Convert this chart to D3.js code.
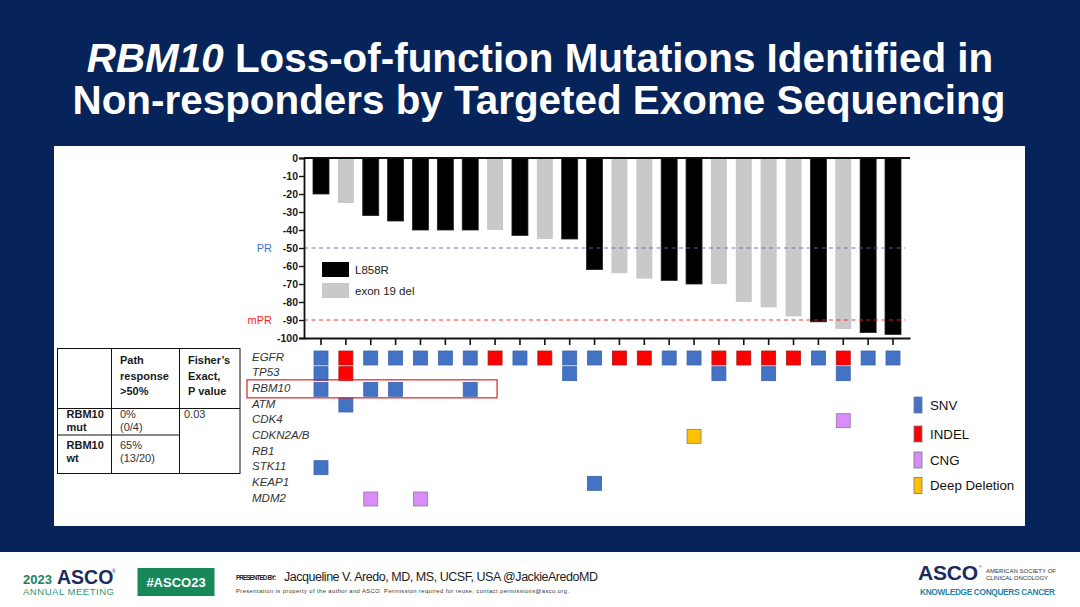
<!DOCTYPE html>
<html>
<head>
<meta charset="utf-8">
<script src="https://cdn.jsdelivr.net/npm/d3@7"></script>
<style>
  body { margin: 0; background: #fff; }
  svg { display: block; font-family: "Liberation Sans", Arial, sans-serif; }
</style>
</head>
<body>
<svg id="slide" width="1080" height="607"></svg>
<script>
// patients ordered by best response (waterfall order)
var patients = ['P1','P2','P3','P4','P5','P6','P7','P8','P9','P10','P11','P12',
                'P13','P14','P15','P16','P17','P18','P19','P20','P21','P22','P23','P24'];

// best pathologic/radiologic response (%)
var bestResponse = [-20, -25, -32, -35, -40, -40, -40, -40, -43, -45, -45, -62,
                    -64, -67, -68, -70, -70, -80, -83, -88, -91, -95, -97, -98];

// EGFR mutation subtype per patient
var egfrType = ['L858R','exon 19 del','L858R','L858R','L858R','L858R','L858R','exon 19 del',
                'L858R','exon 19 del','L858R','L858R','exon 19 del','exon 19 del','L858R','L858R',
                'exon 19 del','exon 19 del','exon 19 del','exon 19 del','L858R','exon 19 del','L858R','L858R'];

var yTicks = [0, -10, -20, -30, -40, -50, -60, -70, -80, -90, -100];

var thresholds = [
    { label: 'PR', value: -50, color: '#4472c4' },
    { label: 'mPR', value: -90, color: '#ff1a1a' }
];

var genes = ['EGFR', 'TP53', 'RBM10', 'ATM', 'CDK4', 'CDKN2A/B', 'RB1', 'STK11', 'KEAP1', 'MDM2'];

var altTypes = ['SNV', 'INDEL', 'CNG', 'Deep Deletion'];

// [patient, gene, alteration]
var alterations = [
    ['P1','EGFR','SNV'], ['P2','EGFR','INDEL'], ['P3','EGFR','SNV'], ['P4','EGFR','SNV'],
    ['P5','EGFR','SNV'], ['P6','EGFR','SNV'], ['P7','EGFR','SNV'], ['P8','EGFR','INDEL'],
    ['P9','EGFR','SNV'], ['P10','EGFR','INDEL'], ['P11','EGFR','SNV'], ['P12','EGFR','SNV'],
    ['P13','EGFR','INDEL'], ['P14','EGFR','INDEL'], ['P15','EGFR','SNV'], ['P16','EGFR','SNV'],
    ['P17','EGFR','INDEL'], ['P18','EGFR','INDEL'], ['P19','EGFR','INDEL'], ['P20','EGFR','INDEL'],
    ['P21','EGFR','SNV'], ['P22','EGFR','INDEL'], ['P23','EGFR','SNV'], ['P24','EGFR','SNV'],
    ['P1','TP53','SNV'], ['P2','TP53','INDEL'], ['P11','TP53','SNV'], ['P17','TP53','SNV'],
    ['P19','TP53','SNV'], ['P22','TP53','SNV'],
    ['P1','RBM10','SNV'], ['P3','RBM10','SNV'], ['P4','RBM10','SNV'], ['P7','RBM10','SNV'],
    ['P2','ATM','SNV'],
    ['P22','CDK4','CNG'],
    ['P16','CDKN2A/B','Deep Deletion'],
    ['P1','STK11','SNV'],
    ['P12','KEAP1','SNV'],
    ['P3','MDM2','CNG'], ['P5','MDM2','CNG']
];

// summary table
var tableHeader = [[], ['Path', 'response', '>50%'], ["Fisher\u2019s", 'Exact,', 'P value']];
var tableRows = [
    { group: ['RBM10', 'mut'], response: ['0%', '(0/4)'] },
    { group: ['RBM10', 'wt'], response: ['65%', '(13/20)'] }
];
var fisherP = '0.03';

// ---------------------------------------------------------------
var navy = '#062459';
var svg = d3.select('#slide');

// slide background
svg.append('rect').attr('x', 0).attr('y', 0).attr('width', 1080).attr('height', 552).attr('fill', navy);
svg.append('rect').attr('x', 54).attr('y', 146).attr('width', 971).attr('height', 380).attr('fill', '#fff');

// title
var title = svg.append('text')
    .attr('text-anchor', 'middle')
    .attr('fill', '#fff')
    .attr('font-weight', 'bold')
    .attr('font-size', 40.4);
var t1 = title.append('tspan').attr('x', 540).attr('y', 72);
t1.append('tspan').attr('font-style', 'italic').text('RBM10');
t1.append('tspan').text(' Loss-of-function Mutations Identified in');
title.append('tspan').attr('x', 539).attr('y', 114).text('Non-responders by Targeted Exome Sequencing');

// ---------------------------------------------------------------
// waterfall
var x = d3.scaleBand()
    .domain(patients)
    .range([304, 910])
    .paddingInner(0.357)
    .paddingOuter(0.362);

var y = d3.scaleLinear()
    .domain([-100, 0])
    .range([338, 158]);

var typeColor = d3.scaleOrdinal()
    .domain(['L858R', 'exon 19 del'])
    .range(['#000000', '#c9c9c9']);

var chart = svg.append('g');

chart.selectAll('rect.bar')
    .data(patients)
    .enter().append('rect')
    .attr('class', 'bar')
    .attr('x', function(d) { return x(d); })
    .attr('y', y(0))
    .attr('width', x.bandwidth())
    .attr('height', function(d, i) { return y(bestResponse[i]) - y(0); })
    .attr('fill', function(d, i) { return typeColor(egfrType[i]); })
    .attr('stroke', function(d, i) { return egfrType[i] === 'L858R' ? '#222' : 'none'; })
    .attr('stroke-width', 0.8);

// threshold lines
thresholds.forEach(function(t) {
    chart.append('line')
        .attr('x1', 304).attr('x2', 905)
        .attr('y1', y(t.value)).attr('y2', y(t.value))
        .attr('stroke', t.color)
        .attr('stroke-opacity', 0.6)
        .attr('stroke-width', 1.3)
        .attr('stroke-dasharray', '4,3.5');
    chart.append('text')
        .attr('x', 272).attr('y', y(t.value))
        .attr('dy', '0.35em')
        .attr('text-anchor', 'end')
        .attr('font-size', 11)
        .attr('fill', t.color)
        .text(t.label);
});

// axes
var yAxis = chart.append('g')
    .attr('transform', 'translate(304,0)')
    .call(d3.axisLeft(y).tickValues(yTicks).tickSize(5).tickPadding(1)
        .tickFormat(function(d) { return String(d); }));
yAxis.selectAll('text').attr('font-size', 10.5).attr('font-weight', 'bold').attr('fill', '#1a1a1a')
    .attr('font-family', '"Liberation Sans", Arial, sans-serif');
yAxis.selectAll('line').attr('stroke', '#111').attr('stroke-width', 1.4);
yAxis.select('.domain').attr('stroke', '#111').attr('stroke-width', 1.8);

var xAxis = chart.append('g')
    .attr('transform', 'translate(0,' + y(-100) + ')')
    .call(d3.axisBottom(x).tickSize(7).tickSizeOuter(0).tickFormat(''));
xAxis.selectAll('line').attr('stroke', '#111').attr('stroke-width', 1.6);
xAxis.select('.domain').attr('stroke', '#111').attr('stroke-width', 1.8);

chart.append('line')
    .attr('x1', 304).attr('x2', 910)
    .attr('y1', y(0)).attr('y2', y(0))
    .attr('stroke', '#111').attr('stroke-width', 1.8);

// subtype legend
var legend = chart.append('g').attr('transform', 'translate(322,262)');
typeColor.domain().forEach(function(k, i) {
    legend.append('rect')
        .attr('x', 0).attr('y', i * 21)
        .attr('width', 27).attr('height', 15)
        .attr('fill', typeColor(k));
    legend.append('text')
        .attr('x', 33).attr('y', i * 21 + 7.5)
        .attr('dy', '0.35em')
        .attr('font-size', 11.5)
        .attr('fill', '#222')
        .text(k);
});

// ---------------------------------------------------------------
// oncoprint
var row = d3.scalePoint()
    .domain(genes)
    .range([358, 499]);

var altColor = d3.scaleOrdinal()
    .domain(altTypes)
    .range(['#4472c4', '#ff0000', '#d98ef7', '#ffc000']);
var altStroke = d3.scaleOrdinal()
    .domain(altTypes)
    .range(['#3d64ad', '#b01818', '#8d7a9c', '#7f7f7f']);

var onco = svg.append('g');

onco.selectAll('text.gene')
    .data(genes)
    .enter().append('text')
    .attr('class', 'gene')
    .attr('x', 252)
    .attr('y', function(d) { return row(d) + 2.5; })
    .attr('font-size', 11.5)
    .attr('font-style', 'italic')
    .attr('fill', '#333')
    .text(function(d) { return d; });

var sq = 14;
onco.selectAll('rect.alt')
    .data(alterations)
    .enter().append('rect')
    .attr('class', 'alt')
    .attr('x', function(d) { return x(d[0]) + x.bandwidth() / 2 - sq / 2; })
    .attr('y', function(d) { return row(d[1]) - sq / 2; })
    .attr('width', sq).attr('height', sq)
    .attr('fill', function(d) { return altColor(d[2]); })
    .attr('stroke', function(d) { return altStroke(d[2]); })
    .attr('stroke-width', 0.8);

// highlight RBM10 row
onco.append('rect')
    .attr('x', 247)
    .attr('y', row('RBM10') - 9.5)
    .attr('width', x('P8') + x.bandwidth() / 2 + 2 - 247)
    .attr('height', 18)
    .attr('fill', 'none')
    .attr('stroke', '#e02020')
    .attr('stroke-width', 1.2);

// alteration legend
var altLegY = [405, 434, 460, 485.5];
altTypes.forEach(function(k, i) {
    onco.append('rect')
        .attr('x', 914).attr('y', altLegY[i] - 8)
        .attr('width', 8).attr('height', 16)
        .attr('fill', altColor(k))
        .attr('stroke', '#6f7a8a').attr('stroke-width', 0.8);
    onco.append('text')
        .attr('x', 930).attr('y', altLegY[i])
        .attr('dy', '0.35em')
        .attr('font-size', 13.3)
        .attr('fill', '#111')
        .text(k);
});

// ---------------------------------------------------------------
// summary table
var colX = [57.5, 111.5, 179.5, 240];
var rowY = [348.5, 408.5, 435, 473.5];
var table = svg.append('g').attr('stroke', '#111').attr('stroke-width', 1);

table.append('rect')
    .attr('x', colX[0]).attr('y', rowY[0])
    .attr('width', colX[3] - colX[0]).attr('height', rowY[3] - rowY[0])
    .attr('fill', 'none');
[1, 2].forEach(function(c) {
    table.append('line').attr('x1', colX[c]).attr('x2', colX[c]).attr('y1', rowY[0]).attr('y2', rowY[3]);
});
table.append('line').attr('x1', colX[0]).attr('x2', colX[3]).attr('y1', rowY[1]).attr('y2', rowY[1]);
table.append('line').attr('x1', colX[0]).attr('x2', colX[2]).attr('y1', rowY[2]).attr('y2', rowY[2]);

var cellText = svg.append('g').attr('font-size', 11).attr('fill', '#222');

function cellLines(xPos, yPos, lines, lineH, bold) {
    lines.forEach(function(s, i) {
        cellText.append('text')
            .attr('x', xPos).attr('y', yPos + i * lineH)
            .attr('font-weight', bold ? 'bold' : 'normal')
            .attr('fill', bold ? '#1a1a1a' : '#333')
            .text(s);
    });
}

tableHeader.forEach(function(lines, c) {
    cellLines(colX[c] + 8.5, 364, lines, 15.5, true);
});
tableRows.forEach(function(r, i) {
    var top = (i === 0 ? 418 : 449);
    cellLines(colX[0] + 9, top, r.group, 12.5, true);
    cellLines(colX[1] + 8.5, top, r.response, 12.5, false);
});
cellLines(colX[2] + 4.5, 418, [fisherP], 12.5, false);

// ---------------------------------------------------------------
// footer
var foot = svg.append('g');
foot.append('text').attr('x', 23).attr('y', 584)
    .attr('font-size', 13).attr('font-weight', 'bold').attr('fill', '#1d7f5c').text('2023');
foot.append('text').attr('x', 57).attr('y', 584)
    .attr('font-size', 19.5).attr('font-weight', 'bold').attr('fill', '#1c2b5c').text('ASCO');
foot.append('text').attr('x', 112).attr('y', 573)
    .attr('font-size', 5).attr('fill', '#1c2b5c').text('\u00ae');
foot.append('text').attr('x', 23).attr('y', 595)
    .attr('font-size', 9.6).attr('fill', '#2b9878').attr('textLength', 91).text('ANNUAL MEETING');

foot.append('rect').attr('x', 137.5).attr('y', 568).attr('width', 77).attr('height', 28).attr('fill', '#17885a');
foot.append('text').attr('x', 176).attr('y', 586.5).attr('text-anchor', 'middle')
    .attr('font-size', 13).attr('font-weight', 'bold').attr('fill', '#fff').text('#ASCO23');

foot.append('text').attr('x', 236).attr('y', 580)
    .attr('font-size', 6.3).attr('font-weight', 'bold').attr('fill', '#222')
    .attr('textLength', 40).text('PRESENTED BY:');
foot.append('text').attr('x', 284).attr('y', 581)
    .attr('font-size', 12.5).attr('fill', '#222')
    .attr('textLength', 314).text('Jacqueline V. Aredo, MD, MS, UCSF, USA @JackieAredoMD');
foot.append('text').attr('x', 236).attr('y', 593)
    .attr('font-size', 5.8).attr('fill', '#333')
    .attr('textLength', 333)
    .text('Presentation is property of the author and ASCO. Permission required for reuse; contact permissions@asco.org.');

foot.append('text').attr('x', 918).attr('y', 580)
    .attr('font-size', 21).attr('font-weight', 'bold').attr('fill', '#1c2b5c')
    .attr('textLength', 60).text('ASCO');
foot.append('text').attr('x', 979).attr('y', 568)
    .attr('font-size', 4).attr('fill', '#1c2b5c').text('\u00ae');
foot.append('text').attr('x', 986).attr('y', 573)
    .attr('font-size', 6).attr('fill', '#333').attr('textLength', 70).text('AMERICAN SOCIETY OF');
foot.append('text').attr('x', 986).attr('y', 580)
    .attr('font-size', 6).attr('fill', '#333').attr('textLength', 62).text('CLINICAL ONCOLOGY');
foot.append('text').attr('x', 920).attr('y', 595)
    .attr('font-size', 8.3).attr('font-weight', 'bold').attr('fill', '#1f86a8')
    .attr('textLength', 135).text('KNOWLEDGE CONQUERS CANCER');
</script>
</body>
</html>
